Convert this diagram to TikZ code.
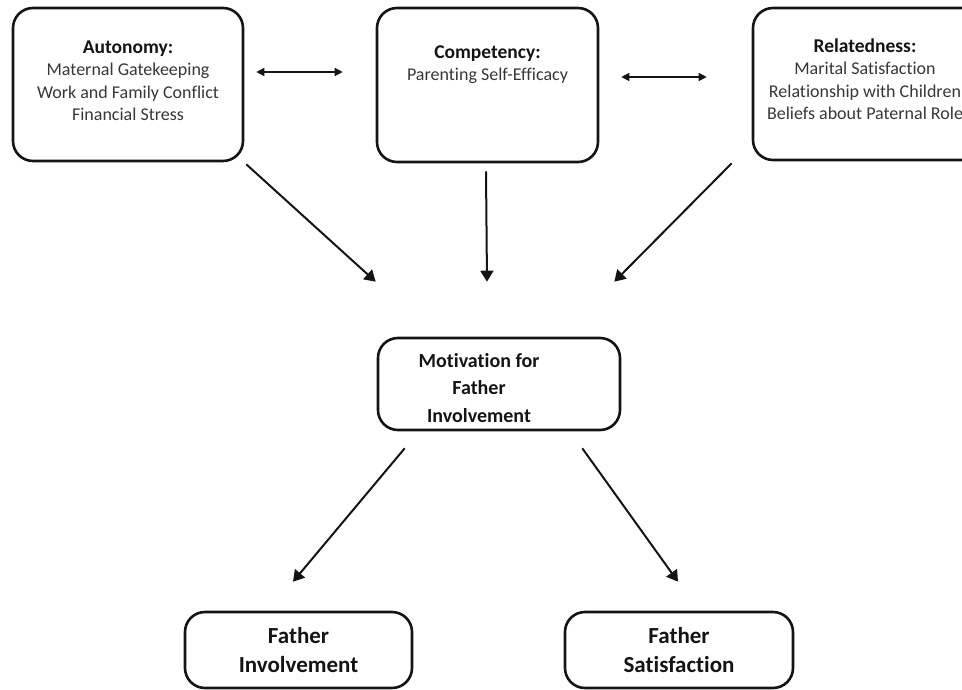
\documentclass[tikz,border=0pt]{standalone}
\usepackage{fontspec}
\setmainfont{Carlito}[Ligatures=CommonOff]
\usetikzlibrary{arrows.meta,positioning}
\definecolor{sdtblack}{RGB}{20,20,20}
\definecolor{sdtgray}{RGB}{55,55,55}
\newcommand{\needtitle}[1]{{\bfseries\color{sdtblack}\fontsize{19.5}{22.3}\selectfont #1}}

\begin{document}
\begin{tikzpicture}[x=1pt,y=-1pt,
  box/.style={draw=sdtblack, line width=2.6pt, rounded corners=20pt, inner sep=0pt},
  need/.style={align=center, inner sep=0pt, text=sdtgray, font=\fontsize{18}{22.3}\selectfont},
  motive/.style={align=center, inner sep=0pt, text=sdtblack, font=\bfseries\fontsize{20}{27.5}\selectfont},
  outcome/.style={align=center, text=sdtblack, font=\bfseries\fontsize{23}{29}\selectfont},
  link/.style={-{Triangle[length=11pt,width=13pt]}, line width=2pt, sdtblack},
  pair/.style={{Triangle[length=8pt,width=8pt]}-{Triangle[length=8pt,width=8pt]}, line width=1.3pt, sdtblack}]
\useasboundingbox (0,0) rectangle (962,690);
\clip (0,0) rectangle (962,690);
% Basic needs
\node[box, minimum width=230pt, minimum height=153pt] (auto) at (128,84.5) {};
\node[need, anchor=north] (autoTxt) at ([yshift=-34pt]auto.north)
  {\needtitle{Autonomy:}\\Maternal Gatekeeping\\Work and Family Conflict\\Financial Stress};
\node[box, minimum width=221pt, minimum height=154pt] (comp) at (487.5,85) {};
\node[need, anchor=north] (compTxt) at ([yshift=-39pt]comp.north)
  {\needtitle{Competency:}\\Parenting Self-Efficacy};
\node[box, minimum width=230pt, minimum height=152pt] (relat) at (868,84) {};
\node[need, anchor=north] (relatTxt) at ([xshift=-3pt,yshift=-32pt]relat.north)
  {\needtitle{Relatedness:}\\Marital Satisfaction\\Relationship with Children\\Beliefs about Paternal Role};
% Motivation
\node[box, minimum width=242pt, minimum height=92pt] (motiv) at (499,384) {};
\node[motive] (motivTxt) at ([xshift=-20pt,yshift=-4pt]motiv.center)
  {Motivation for\\Father\\Involvement};
% Outcomes
\node[box, outcome, minimum width=227pt, minimum height=76pt] (inv) at (298.5,650) {Father\\Involvement};
\node[box, outcome, minimum width=228pt, minimum height=76pt] (sat) at (679,650) {Father\\Satisfaction};
% Needs are linked to each other
\draw[pair] ([shift={(12,-12.5)}]auto.east) -- ([shift={(-33,-13)}]comp.west);
\draw[pair] ([shift={(22,-8)}]comp.east) -- ([shift={(-45,-7)}]relat.west);
% Needs -> motivation
\draw[link] ([shift={(2,2)}]auto.south east) -- ([shift={(-1,-55)}]motiv.north west);
\draw[link] ([shift={(-1.5,8)}]comp.south) -- ([shift={(-12,-55)}]motiv.north);
\draw[link] ([shift={(-20,2)}]relat.south west) -- ([shift={(-7,-55)}]motiv.north east);
% Motivation -> outcomes
\draw[link] ([shift={(28,17)}]motiv.south west) -- ([shift={(-5.5,-29)}]inv.north);
\draw[link] ([shift={(-39,17)}]motiv.south east) -- ([shift={(-1,-29)}]sat.north);
\end{tikzpicture}
\end{document}
